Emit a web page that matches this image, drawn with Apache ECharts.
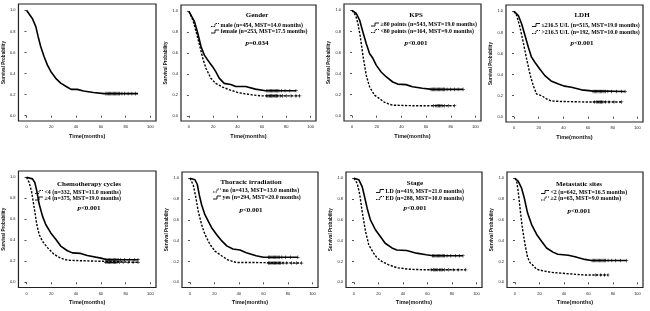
<!DOCTYPE html>
<html>
<head>
<meta charset="utf-8">
<script src="https://cdn.jsdelivr.net/npm/echarts@6/dist/echarts.min.js"></script>
<style>
html, body { margin: 0; padding: 0; background: #fff; }
#chart { width: 650px; height: 311px; }
</style>
</head>
<body>
<div id="chart"></div>
<script>
// ---- data (time in months, survival probability) ----
var xTicks = [0, 20, 40, 60, 80, 100]
var yTicks = [0, 0.2, 0.4, 0.6, 0.8, 1.0]

// overall
var allT = [0, 4.8, 7.5, 9.4, 11.5, 14.2, 16.9, 19.6, 23.6, 27.6, 33, 36, 41, 46, 54, 62.5, 90]
var allS = [1, 0.92, 0.845, 0.75, 0.655, 0.56, 0.48, 0.42, 0.355, 0.31, 0.27, 0.25, 0.25, 0.235, 0.22, 0.21, 0.21]
var allCens = [64, 65, 66, 67, 68, 69, 70, 71, 72, 73, 74, 75, 77, 79, 82, 85, 88]

// gender
var maleT = [0, 3.3, 6, 8.7, 11.4, 14, 18, 22, 27.6, 33, 41, 52, 60, 91]
var maleS = [1, 0.915, 0.8, 0.68, 0.55, 0.455, 0.36, 0.31, 0.275, 0.25, 0.22, 0.2, 0.19, 0.19]
var maleCens = [64, 65, 66, 67, 68, 69, 70, 71, 72, 73, 75, 77, 80, 84, 88, 91]
var femaleT = [0, 4.6, 7.3, 10, 12.7, 16.3, 19.5, 22.2, 24.9, 29, 34.4, 38.5, 46.6, 54.7, 63, 88]
var femaleS = [1, 0.9, 0.79, 0.66, 0.58, 0.52, 0.47, 0.42, 0.36, 0.31, 0.3, 0.28, 0.28, 0.255, 0.24, 0.24]
var femaleCens = [64, 65, 66, 67, 68, 69, 70, 71, 72, 73, 74, 76, 79, 83, 88]

// KPS
var kpsHiT = [0, 3.5, 6.2, 8.8, 11.5, 14.2, 16.9, 19.6, 23.6, 27.6, 33, 37, 43.7, 49, 57, 65, 90]
var kpsHiS = [1, 0.97, 0.905, 0.795, 0.685, 0.59, 0.545, 0.48, 0.415, 0.37, 0.32, 0.3, 0.295, 0.275, 0.26, 0.25, 0.25]
var kpsHiCens = [64, 65, 66, 67, 68, 69, 70, 71, 72, 73, 74, 75, 77, 80, 83, 86, 90]
var kpsLoT = [0, 3, 4.8, 6.7, 8.8, 11.5, 14.2, 18.2, 22, 26, 30, 33, 49, 83]
var kpsLoS = [1, 0.95, 0.875, 0.75, 0.575, 0.385, 0.275, 0.195, 0.165, 0.13, 0.11, 0.1, 0.095, 0.095]
var kpsLoCens = [66, 68, 69, 70, 71, 72, 73, 75, 78, 83]

// LDH
var ldhLoT = [0, 3.5, 6.2, 8.9, 11.6, 14.2, 17, 21, 25, 30, 36, 41, 46.5, 54.6, 62.6, 90]
var ldhLoS = [1, 0.96, 0.88, 0.77, 0.66, 0.565, 0.515, 0.45, 0.39, 0.34, 0.31, 0.29, 0.28, 0.255, 0.245, 0.24]
var ldhLoCens = [64, 65, 66, 67, 68, 69, 70, 71, 72, 73, 74, 76, 79, 83, 87, 90]
var ldhHiT = [0, 2.2, 4.8, 7.5, 10.2, 12.9, 15.6, 18.3, 22.3, 26.3, 30, 38, 57, 87]
var ldhHiS = [1, 0.96, 0.85, 0.705, 0.55, 0.405, 0.295, 0.215, 0.2, 0.17, 0.15, 0.145, 0.14, 0.14]
var ldhHiCens = [65, 67, 68, 69, 70, 71, 72, 74, 77, 81, 87]

// chemotherapy cycles
var chemoLoT = [0, 2.1, 4, 6.2, 8.3, 10.2, 12.9, 16.9, 22.3, 27.6, 33, 43.7, 60, 90]
var chemoLoS = [1, 0.95, 0.87, 0.71, 0.55, 0.455, 0.39, 0.33, 0.265, 0.23, 0.21, 0.205, 0.2, 0.19]
var chemoLoCens = [64, 65, 66, 67, 68, 69, 70, 71, 72, 73, 75, 78, 82, 86, 90]
var chemoHiT = [0, 4.8, 6.7, 8.3, 10.2, 12.9, 15.5, 19.6, 23.6, 27.6, 33, 37, 43.7, 49, 60, 65, 90]
var chemoHiS = [1, 0.985, 0.95, 0.87, 0.745, 0.63, 0.55, 0.47, 0.41, 0.345, 0.3, 0.28, 0.275, 0.255, 0.23, 0.215, 0.215]
var chemoHiCens = [64, 65, 66, 67, 68, 69, 70, 71, 72, 73, 74, 76, 79, 83, 87, 90]

// thoracic irradiation
var thorNoT = [0, 2.7, 4.9, 6.8, 9.5, 12.2, 16.3, 20.4, 25.8, 31, 38, 52, 91]
var thorNoS = [1, 0.935, 0.81, 0.68, 0.555, 0.46, 0.365, 0.3, 0.255, 0.215, 0.19, 0.19, 0.185]
var thorNoCens = [64, 65, 66, 67, 68, 69, 70, 71, 72, 73, 74, 76, 79, 83, 87, 91]
var thorYesT = [0, 4.1, 6, 7.6, 9.5, 12.2, 15, 17.7, 21.7, 25.8, 30, 35, 40.8, 46, 54, 60, 88]
var thorYesS = [1, 0.985, 0.94, 0.84, 0.745, 0.65, 0.585, 0.525, 0.46, 0.4, 0.35, 0.32, 0.31, 0.285, 0.255, 0.24, 0.24]
var thorYesCens = [64, 65, 66, 67, 68, 69, 70, 71, 72, 73, 75, 78, 82, 88]

// stage
var ldT = [0, 4, 6.7, 8.6, 10.8, 13.4, 17.5, 21.5, 25.5, 31, 35, 43, 51, 59, 64.5, 89]
var ldS = [1, 0.985, 0.92, 0.825, 0.71, 0.6, 0.505, 0.44, 0.375, 0.33, 0.31, 0.305, 0.28, 0.265, 0.255, 0.255]
var ldCens = [64, 65, 66, 67, 68, 69, 70, 71, 72, 73, 74, 76, 79, 83, 86, 89]
var edT = [0, 2.7, 4.8, 6.7, 9.4, 12.1, 16, 18.8, 22.8, 28, 35, 45.7, 59, 91]
var edS = [1, 0.95, 0.84, 0.68, 0.49, 0.36, 0.28, 0.235, 0.2, 0.17, 0.14, 0.125, 0.12, 0.12]
var edCens = [63, 65, 66, 67, 68, 70, 71, 72, 74, 77, 81, 85, 91]

// metastatic sites
var metLoT = [0, 2.7, 5.4, 7.6, 10.3, 13.6, 17.7, 21.7, 25.8, 31, 35, 43.5, 49, 57, 62.5, 91]
var metLoS = [1, 0.97, 0.905, 0.81, 0.665, 0.555, 0.46, 0.395, 0.33, 0.29, 0.27, 0.26, 0.245, 0.22, 0.21, 0.21]
var metLoCens = [63, 64, 65, 66, 67, 68, 69, 70, 71, 72, 73, 74, 76, 79, 82, 86, 91]
var metHiT = [0, 1.4, 2.7, 4.1, 6, 8.2, 10.3, 12.2, 15, 17.7, 23, 30, 40.8, 57, 76]
var metHiS = [1, 0.97, 0.87, 0.715, 0.525, 0.365, 0.24, 0.19, 0.16, 0.125, 0.11, 0.095, 0.085, 0.07, 0.07]
var metHiCens = [66, 70, 73, 76]

// ---- layout of the eight panels ----
var SERIF = 'Liberation Serif'
var SANS = 'Liberation Sans'

var panels = [
  { box: [18, 4, 138, 117], curves: [{ t: allT, s: allS, c: allCens, dash: false }] },
  { box: [181, 5, 135, 116], title: 'Gender', p: '=0.034', tx: 257, ty: 15, lx: 211, ly: [25, 31.5], py: 43,
    curves: [{ t: maleT, s: maleS, c: maleCens, dash: true, label: 'male (n=454, MST=14.0 months)' },
             { t: femaleT, s: femaleS, c: femaleCens, dash: false, label: 'female (n=253, MST=17.5 months)' }] },
  { box: [344, 4, 137, 117], title: 'KPS', p: '<0.001', tx: 416, ty: 15, lx: 371, ly: [24.5, 31], py: 43,
    curves: [{ t: kpsHiT, s: kpsHiS, c: kpsHiCens, dash: false, label: '≥80 points (n=543, MST=19.0 months)' },
             { t: kpsLoT, s: kpsLoS, c: kpsLoCens, dash: true, label: '<80 points (n=164, MST=9.0 months)' }] },
  { box: [506, 5, 137, 117], title: 'LDH', p: '<0.001', tx: 582, ty: 15.5, lx: 532, ly: [25, 32], py: 43,
    curves: [{ t: ldhLoT, s: ldhLoS, c: ldhLoCens, dash: false, label: '≤216.5 U/L (n=515, MST=19.0 months)' },
             { t: ldhHiT, s: ldhHiS, c: ldhHiCens, dash: true, label: '>216.5 U/L (n=192, MST=10.0 months)' }] },
  { box: [18, 171, 138, 116.5], title: 'Chemotherapy cycles', p: '<0.001', tx: 89, ty: 184, lx: 35, ly: [192, 198.5], py: 208,
    curves: [{ t: chemoLoT, s: chemoLoS, c: chemoLoCens, dash: true, label: '<4 (n=332, MST=11.0 months)' },
             { t: chemoHiT, s: chemoHiS, c: chemoHiCens, dash: false, label: '≥4 (n=375, MST=19.0 months)' }] },
  { box: [182, 172, 136, 115.5], title: 'Thoracic irradiation', p: '<0.001', tx: 251, ty: 182, lx: 213, ly: [190.5, 197.5], py: 210,
    curves: [{ t: thorNoT, s: thorNoS, c: thorNoCens, dash: true, label: 'no (n=413, MST=13.0 months)' },
             { t: thorYesT, s: thorYesS, c: thorYesCens, dash: false, label: 'yes (n=294, MST=20.0 months)' }] },
  { box: [346, 172, 136, 115.5], title: 'Stage', p: '<0.001', tx: 415, ty: 183, lx: 376, ly: [191, 198], py: 208,
    curves: [{ t: ldT, s: ldS, c: ldCens, dash: false, label: 'LD (n=419, MST=21.0 months)' },
             { t: edT, s: edS, c: edCens, dash: true, label: 'ED (n=288, MST=10.0 months)' }] },
  { box: [507, 172, 136, 115.5], title: 'Metastatic sites', p: '<0.001', tx: 579, ty: 184, lx: 541, ly: [192, 198.5], py: 211,
    curves: [{ t: metLoT, s: metLoS, c: metLoCens, dash: false, label: '<2 (n=642, MST=16.5 months)' },
             { t: metHiT, s: metHiS, c: metHiCens, dash: true, label: '≥2 (n=65, MST=9.0 months)' }] }
]

var plus = 'path://M4,0H6V4H10V6H6V10H4V6H0V4H4Z'
var grids = [], xAxes = [], yAxes = [], series = [], graphics = []

panels.forEach(function(p, i) {
  grids.push({
    left: p.box[0], top: p.box[1], width: p.box[2], height: p.box[3],
    show: true, borderColor: '#222', borderWidth: 1.2
  })
  xAxes.push({
    gridIndex: i, type: 'value', min: -6.5, max: 104.5,
    name: 'Time(months)', nameLocation: 'middle', nameGap: 12,
    nameTextStyle: { fontFamily: SANS, fontSize: 5.5, fontWeight: 'bold', color: '#111' },
    axisLine: { show: false },
    axisTick: { show: true, inside: false, length: 2, customValues: xTicks, lineStyle: { color: '#222', width: 0.8 } },
    axisLabel: { customValues: xTicks, fontSize: 4, fontFamily: SANS, color: '#222', margin: 4 },
    splitLine: { show: false }
  })
  yAxes.push({
    gridIndex: i, type: 'value', min: -0.05, max: 1.06,
    name: 'Survival Probability', nameLocation: 'middle', nameGap: 10,
    nameTextStyle: { fontFamily: SANS, fontSize: 4.6, fontWeight: 'bold', color: '#111' },
    axisLine: { show: false },
    axisTick: { show: true, inside: false, length: 2, customValues: yTicks, lineStyle: { color: '#222', width: 0.8 } },
    axisLabel: { customValues: yTicks, fontSize: 4, fontFamily: SANS, color: '#222', margin: 3,
      formatter: function(v) { return v.toFixed(1) } },
    splitLine: { show: false }
  })
  p.curves.forEach(function(c) {
    var tail = c.s[c.s.length - 1]
    series.push({
      type: 'line', xAxisIndex: i, yAxisIndex: i, silent: true, showSymbol: false,
      data: c.t.map(function(t, k) { return [t, c.s[k]] }),
      lineStyle: { color: '#000', width: c.dash ? 1.4 : 1.6, type: c.dash ? [2.2, 1.5] : 'solid' }
    })
    series.push({
      type: 'scatter', xAxisIndex: i, yAxisIndex: i, silent: true,
      symbol: plus, symbolSize: 3.6, itemStyle: { color: '#000' },
      data: c.c.map(function(t) { return [t, tail] })
    })
  })
  if (p.title) {
    graphics.push({ type: 'text', x: p.tx, y: p.ty, style: { text: p.title, fontFamily: SERIF, fontSize: 7, fontWeight: 'bold', fill: '#000', align: 'center', verticalAlign: 'middle' } })
    p.curves.forEach(function(c, k) {
      var y = p.ly[k]
      graphics.push({ type: 'polyline', shape: { points: [[p.lx, y + 1.5], [p.lx + 4, y + 1.5], [p.lx + 4, y - 1.5], [p.lx + 8, y - 1.5]] },
        style: { stroke: '#000', lineWidth: 0.9, fill: null, lineDash: c.dash ? [1.5, 1] : null } })
      graphics.push({ type: 'text', x: p.lx + 9.5, y: y, style: { text: c.label, fontFamily: SERIF, fontSize: 5.9, fontWeight: 'bold', fill: '#000', align: 'left', verticalAlign: 'middle' } })
    })
    graphics.push({ type: 'text', x: p.tx, y: p.py, style: {
      text: '{i|p}{n|' + p.p + '}', align: 'center', verticalAlign: 'middle',
      rich: { i: { fontFamily: SERIF, fontSize: 7, fontWeight: 'bold', fontStyle: 'italic', fill: '#000' },
              n: { fontFamily: SERIF, fontSize: 7, fontWeight: 'bold', fill: '#000' } } } })
  }
})

var chart = echarts.init(document.getElementById('chart'))
chart.setOption({
  animation: false,
  backgroundColor: '#fff',
  grid: grids,
  xAxis: xAxes,
  yAxis: yAxes,
  series: series,
  graphic: graphics
})
</script>
</body>
</html>
